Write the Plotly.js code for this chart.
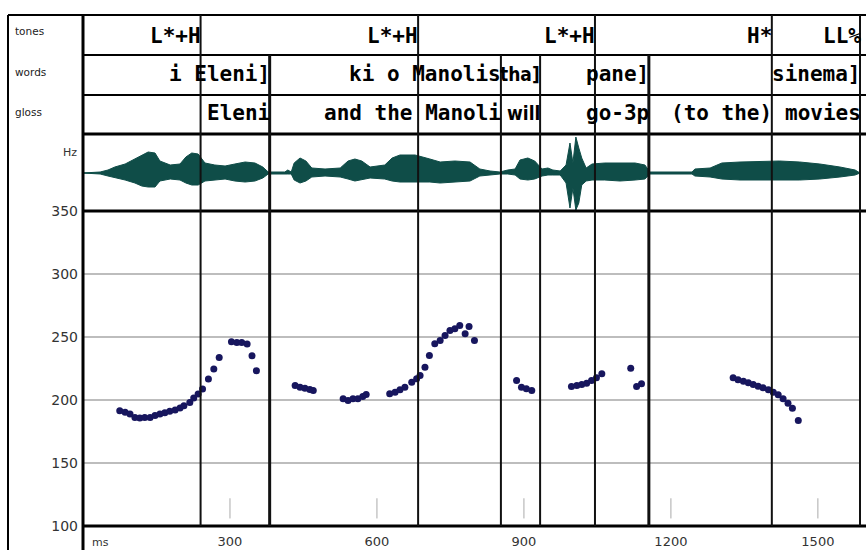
<!DOCTYPE html>
<html>
<head>
<meta charset="utf-8">
<script src="https://cdn.plot.ly/plotly-3.0.1.min.js"></script>
<style>html,body{margin:0;padding:0;background:#fff;}#chart{width:866px;height:550px;}</style>
</head>
<body>
<div id="chart"></div>
<script>
// ---------- DATA ----------
// F0 track (ms, Hz)
const f0Ms = [75,86,96,106,116,126,137,147,157,167,177,188,198,206,218,226,235,244,256,267,278,
  303,314,324,335,345,354,
  433,443,453,463,470,
  531,541,551,561,571,578,
  626,637,647,657,671,681,688,698,707,718,729,739,749,759,769,780,788,799,
  885,895,905,916,
  997,1008,1018,1028,1038,1048,1059,
  1118,1130,1140,
  1327,1337,1348,1358,1368,1378,1388,1399,1409,1419,1429,1439,1448,1460];
const f0Hz = [191.5,190.2,188.9,186.2,185.7,186.2,186.2,187.6,188.9,189.9,191,192.1,193.7,195.5,198.1,201.6,204.8,208.7,216.6,224.6,233.8,
  246.2,245.6,245.6,244.4,235.1,223.2,
  211.5,210.1,209.3,208.3,207.5,
  201,199.6,201,201,202.8,204.4,
  204.9,206.2,208.1,210.2,214.1,216.8,219.4,226,235.3,244.6,247.2,251.2,255.2,256.5,259.1,252.5,258.3,247.2,
  215.5,210.2,208.9,207.5,
  210.7,211.5,212.3,213.3,215.5,217.6,220.8,
  225.2,210.7,212.8,
  217.6,216,214.9,213.6,212.3,211,209.7,208.1,206.2,204.1,201,197.5,193.5,183.7];

// waveform envelope (ms, upper amplitude, lower amplitude; arbitrary units)
const waveMs  = [0,35,51,65,86,106,120,133,147,157,178,198,210,222,235,249,269,290,310,331,351,367,378,412,418,425,431,443,455,467,494,525,541,555,569,586,616,631,647,678,708,729,759,790,810,831,851,867,882,892,908,922,937,949,959,974,986,994,1000,1006,1012,1018,1027,1039,1065,1096,1127,1147,1157,1243,1249,1280,1304,1341,1422,1463,1504,1545,1576,1586];
const waveTop = [0,1,3,6,9,14,18,21,20,12,8,9,16,20,19,10,8,7,9,11,10,6,1,1,3,1,10,15,12,5,4,5,12,14,12,6,8,15,18,18,14,11,12,11,4,2,1,3,4,13,15,12,4,5,3,2,8,30,10,36,25,15,5,9,10,10,10,8,1,1,4,5,10,11,12,11,9,6,3,0];
const waveBot = [0,1,3,5,7,10,13,14,14,8,6,7,10,12,12,8,7,6,8,9,8,5,1,1,1,1,7,10,8,4,3,4,6,8,7,5,6,8,9,9,9,10,9,8,3,2,1,1,2,6,7,6,3,2,2,2,10,35,15,37,30,12,8,7,7,8,7,6,1,1,3,4,6,7,7,7,6,4,2,0];

// tiers: label, right boundary (ms)
const toneLabels = ["L*+H","L*+H","L*+H","H*","LL%"];
const toneEnds   = [240,684,1045,1406,1587];
const wordLabels = ["i Eleni]","ki o Manolis","tha]","pane]","sinema]"];
const wordEnds   = [381,853,933,1155,1587];
const glossLabels= ["Eleni","and the Manoli","will","go-3p","(to the)","movies"];
const glossEnds  = [381,853,933,1155,1406,1587];
const rowLabels  = ["tones","words","gloss"];
const xTicks = [300,600,900,1200,1500];
const yTicks = [100,150,200,250,300,350];

// ---------- LAYOUT HELPERS ----------
const W = 866, H = 550;
const px = x => x / W;
const py = y => 1 - y / H;
const X0 = 83, X1 = 861;

const shapes = [];
function hline(y, x0, x1, w, c) {
  shapes.push({type:'line', xref:'paper', yref:'paper', x0:px(x0), x1:px(x1), y0:py(y), y1:py(y), line:{color:c||'#000', width:w}});
}
function vlinePaper(x, y0, y1, w, c) {
  shapes.push({type:'line', xref:'paper', yref:'paper', x0:px(x), x1:px(x), y0:py(y0), y1:py(y1), line:{color:c||'#000', width:w}});
}
// frame
hline(15, 8, W, 2);
vlinePaper(8, 15, H, 2);
vlinePaper(X0, 15, H, 3);
hline(55, X0, W, 2);
hline(95, X0, W, 2);
hline(134, X0, W, 3);
hline(211, X0, W, 3);
hline(526, X0, W, 3);
// boundaries
const thick = new Set([381,1155]);
toneEnds.forEach(t => shapes.push({type:'line', xref:'x', yref:'paper', x0:t, x1:t, y0:py(526), y1:py(15), line:{color:'#111', width: t===1587?3:2}}));
wordEnds.slice(0,4).forEach(t => shapes.push({type:'line', xref:'x', yref:'paper', x0:t, x1:t, y0:py(526), y1:py(55), line:{color:'#111', width: thick.has(t)?3:2}}));
// small time ticks
xTicks.forEach(t => shapes.push({type:'line', xref:'x', yref:'y', x0:t, x1:t, y0:106, y1:122, line:{color:'#aaa', width:1}}));

const annotations = [];
function tier(labels, ends, yc) {
  labels.forEach((s,i) => {
    const narrow = (s === 'tha]' || s === 'will');
    annotations.push({text:'<b>'+s+'</b>', x:ends[i], xref:'x', y:py(yc), yref:'paper', xanchor:'right', yanchor:'middle',
      showarrow:false, borderpad:0, xshift:1,
      font:{family: narrow ? 'DejaVu Sans Condensed, DejaVu Sans Mono' : 'DejaVu Sans Mono', size: narrow ? 19 : 21, color:'#000'}});
  });
}
tier(toneLabels, toneEnds, 36);
tier(wordLabels, wordEnds, 74);
tier(glossLabels, glossEnds, 113);
const smallFont = {family:'DejaVu Sans', size:10.5, color:'#222'};
[31,72,112].forEach((y,i) => annotations.push({text:rowLabels[i], x:px(13), xref:'paper', y:py(y), yref:'paper', xanchor:'left', yanchor:'middle', showarrow:false, font:smallFont}));
annotations.push({text:'Hz', x:px(79), xref:'paper', y:py(152), yref:'paper', xanchor:'right', yanchor:'middle', showarrow:false, font:{family:'DejaVu Sans', size:11, color:'#333'}});
annotations.push({text:'ms', x:px(90), xref:'paper', y:py(542), yref:'paper', xanchor:'left', yanchor:'middle', showarrow:false, font:{family:'DejaVu Sans', size:11, color:'#333'}});

// waveform polygon
const polyX = waveMs.concat(waveMs.slice().reverse());
const polyY = waveTop.concat(waveBot.map(v => -v).reverse());

const traces = [
  {x:[0,1588], y:[0,0], xaxis:'x', yaxis:'y2', mode:'lines', line:{color:'#2b6b66', width:1}, hoverinfo:'skip', showlegend:false},
  {x:polyX, y:polyY, xaxis:'x', yaxis:'y2', mode:'lines', fill:'toself', fillcolor:'#0f4d48', line:{color:'#0f4d48', width:1}, hoverinfo:'skip', showlegend:false},
  {x:f0Ms, y:f0Hz, xaxis:'x', yaxis:'y', mode:'markers', marker:{color:'#17165e', size:7}, showlegend:false}
];

const tickFont = {family:'DejaVu Sans', size:14, color:'#333'};
const layout = {
  width:W, height:H, margin:{l:0,r:0,t:0,b:0}, paper_bgcolor:'#fff', plot_bgcolor:'rgba(0,0,0,0)',
  showlegend:false,
  xaxis:{domain:[px(X0), px(X1)], range:[0,1588], showgrid:false, zeroline:false, showline:false,
         tickmode:'array', tickvals:xTicks, ticks:'', ticklabelstandoff:6, tickfont:{family:'DejaVu Sans', size:13, color:'#333'}, anchor:'y', fixedrange:true},
  yaxis:{domain:[py(526), py(211)], range:[100,350], showgrid:true, gridcolor:'#bdbdbd', gridwidth:2, zeroline:false, showline:false,
         tickmode:'array', tickvals:yTicks, ticks:'', ticklabelstandoff:4, tickfont:tickFont, anchor:'x', fixedrange:true},
  yaxis2:{domain:[py(211), py(134)], range:[-38,39], showgrid:false, zeroline:false, showticklabels:false, anchor:'x', fixedrange:true},
  shapes:shapes, annotations:annotations
};
Plotly.newPlot('chart', traces, layout, {displayModeBar:false, staticPlot:true});
</script>
</body>
</html>
